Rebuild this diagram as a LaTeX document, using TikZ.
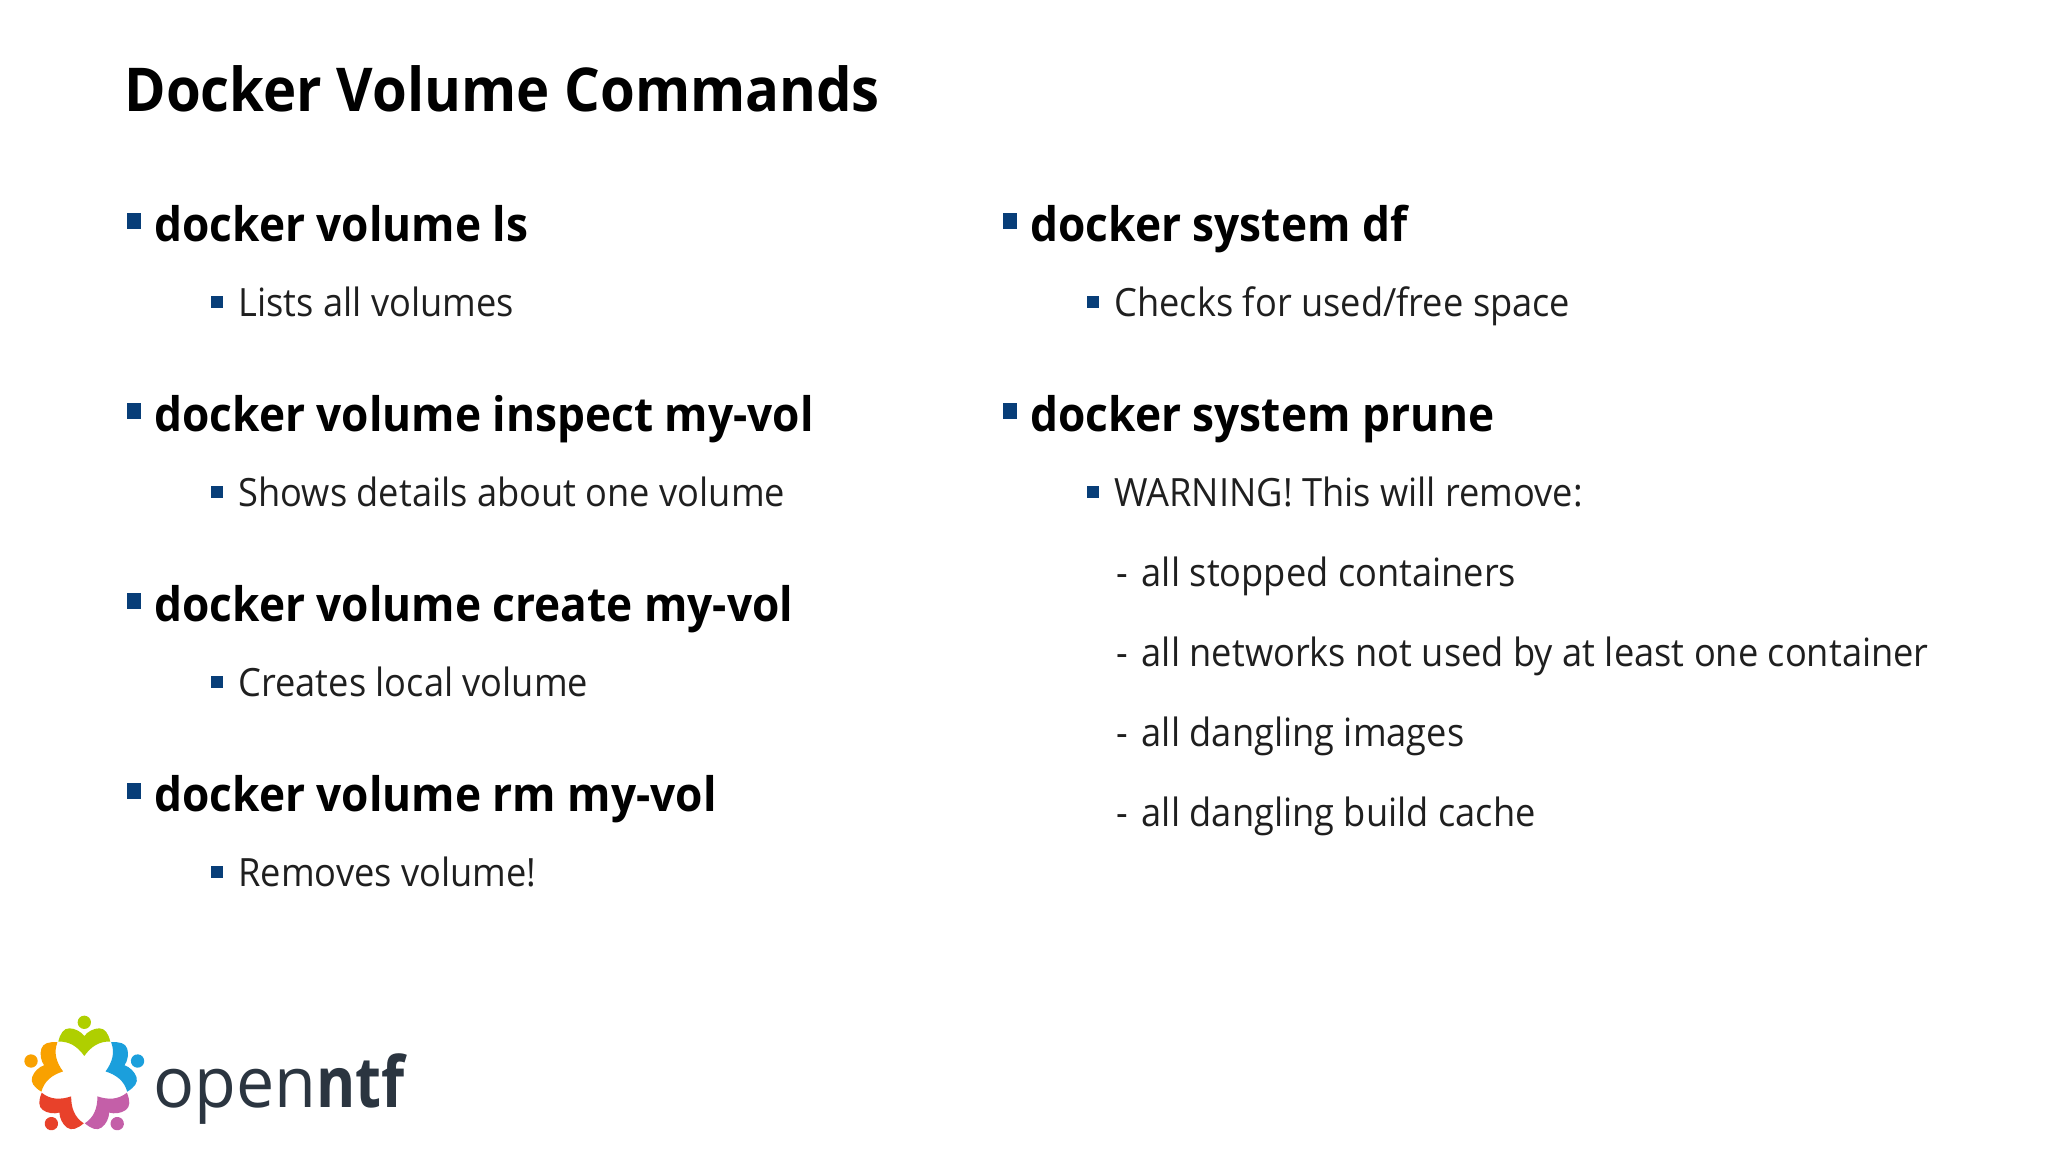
\documentclass[tikz,border=0pt]{standalone}
\usepackage{fontspec}
\setmainfont{Open Sans}[FakeStretch=0.93]
\newfontfamily\logofont{Open Sans}[FakeStretch=0.97]
\newfontfamily\logobold{Open Sans Bold}[FakeStretch=0.85]
\definecolor{bulletblue}{RGB}{8,62,120}
\definecolor{logodark}{RGB}{43,53,64}
\tikzset{
  titletext/.style={anchor=base west,inner sep=0pt,font=\fontsize{21.5pt}{26pt}\selectfont\bfseries},
  headtext/.style={anchor=base west,inner sep=0pt,font=\fontsize{16.9pt}{21pt}\selectfont\bfseries},
  subtext/.style={anchor=base west,inner sep=0pt,font=\fontsize{13.85pt}{17pt}\selectfont,text=black!88},
  logotext/.style={anchor=base west,inner sep=0pt,font=\logofont\fontsize{25pt}{30pt}\selectfont,text=logodark},
  person/.pic={
    \fill (0,168) circle (20);
    \fill (-78,110) .. controls (-72,135) and (-62,150) .. (-45,150)
      .. controls (-28,150) and (-10,140) .. (0,127)
      .. controls (10,140) and (28,150) .. (45,150)
      .. controls (62,150) and (72,135) .. (78,110)
      .. controls (45,112) and (20,95) .. (0,67)
      .. controls (-20,95) and (-45,112) .. (-78,110) -- cycle;
  }
}
\begin{document}
\begin{tikzpicture}[x=0.0125cm,y=-0.0125cm]
  \useasboundingbox (0,0) rectangle (2048,1152);
  \fill[white] (0,0) rectangle (2048,1152);
  \node[titletext] (title) at (124,111) {Docker Volume Commands};
  % left column
  \foreach \nm/\yy/\hd/\sb in {ls/241/docker volume ls/Lists all volumes,
      inspect/431/docker volume inspect my-vol/Shows details about one volume,
      create/621/docker volume create my-vol/Creates local volume,
      rm/811/docker volume rm my-vol/Removes volume!} {
    \fill[bulletblue] (127,\yy-28) rectangle (141,\yy-12);
    \fill[bulletblue] (211,\yy+55) rectangle (223,\yy+67);
    \node[headtext] (head\nm) at (154,\yy) {\hd};
    \node[subtext] (sub\nm) at (238,\yy+75) {\sb};
  }
  % right column
  \foreach \nm/\yy/\hd/\sb in {df/241/docker system df/{Checks for used/free space},
      prune/431/docker system prune/WARNING! This will remove:} {
    \fill[bulletblue] (1008-5,\yy-28) rectangle (1022-5,\yy-12);
    \fill[bulletblue] (1092-5,\yy+55) rectangle (1104-5,\yy+67);
    \node[headtext] (head\nm) at (1035-5,\yy) {\hd};
    \node[subtext] (sub\nm) at (1119-5,\yy+75) {\sb};
  }
  \node[subtext] (itemstopped) at (1116,586) {-\hspace{1.5pt} all stopped containers};
  \node[subtext] (itemnetworks) at (1116,666) {-\hspace{1.5pt} all networks not used by at least one container};
  \node[subtext] (itemimages) at (1116,746) {-\hspace{1.5pt} all dangling images};
  \node[subtext] (itemcache) at (1116,826) {-\hspace{1.5pt} all dangling build cache};
  % logo
  \begin{scope}[shift={(84.3,1078.3)},x=0.0041667cm,y=0.0041667cm]
    \pic[color={rgb,255:red,175;green,207;blue,0}] {person};
    \pic[rotate=-72,color={rgb,255:red,27;green,159;blue,220}] {person};
    \pic[rotate=-144,color={rgb,255:red,196;green,95;blue,168}] {person};
    \pic[rotate=-216,color={rgb,255:red,232;green,65;blue,42}] {person};
    \pic[rotate=-288,color={rgb,255:red,249;green,161;blue,0}] {person};
  \end{scope}
  \node[logotext] (logoname) at (153,1107) {open{\logobold ntf}};
\end{tikzpicture}
\end{document}
